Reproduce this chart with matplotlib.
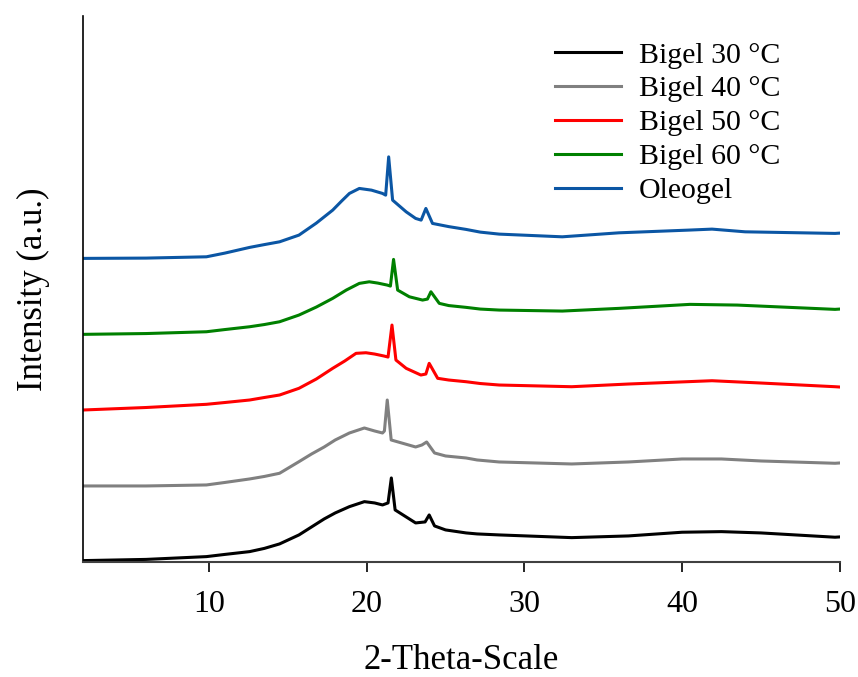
import numpy as np
import matplotlib
matplotlib.use("Agg")
import matplotlib.pyplot as plt

plt.rcParams['font.family'] = ['Liberation Serif', 'DejaVu Serif']

# 2-theta positions and intensities (a.u., stacked)
x_b30 = [2, 6, 9.83, 11, 12.57, 13.5, 14.47, 15.7, 16.5, 17.3, 18.0, 18.9, 19.85, 20.5, 21.0, 21.35, 21.56, 21.8,
         23.1, 23.7, 23.96, 24.3, 25, 26.3, 27, 28.4, 33.0, 36.6, 40.0, 42.5, 45.0, 49.7, 50]
y_b30 = [1.3, 2.5, 5.3, 7.5, 10.3, 13.5, 18, 27, 35, 43, 49, 55.3, 60.3, 59, 57, 59, 84, 52,
         39, 40, 47, 36, 32, 29, 28, 27, 24.3, 26, 29.7, 30.3, 29, 24.7, 25]

x_b40 = [2, 6, 9.83, 11, 12.57, 13.5, 14.47, 15.7, 16.5, 17.3, 18.0, 18.9, 19.85, 20.5, 21.0, 21.12, 21.3, 21.55,
         23.1, 23.5, 23.8, 24.3, 25, 26.3, 27, 28.4, 33.0, 36.6, 40.0, 42.5, 45.0, 49.7, 50]
y_b40 = [76, 76, 77, 79.5, 83, 85.5, 88.7, 100.3, 108, 115, 122, 129, 134, 131, 129, 131, 162, 122,
         115, 117, 120, 109, 106, 104, 102, 100, 98, 100, 103, 103, 101, 98.7, 99]

x_b50 = [2, 6, 9.83, 11, 12.57, 13.5, 14.47, 15.7, 16.8, 17.84, 18.6, 19.32, 19.95, 20.5, 21.1, 21.35, 21.6, 21.85,
         22.5, 23.43, 23.75, 23.96, 24.5, 25.2, 26.3, 27.2, 28.4, 33.0, 36.6, 41.9, 45.0, 49.7, 50]
y_b50 = [152, 154.5, 157.7, 159.5, 162, 164.5, 167, 173.7, 183, 193.7, 201, 208.7, 209.3, 208, 206, 205, 237, 202,
         193.7, 187, 188, 198.7, 183.7, 182, 180.3, 178.5, 177, 175.3, 178, 181.3, 179, 175.3, 175]

x_b60 = [2, 6, 9.83, 11, 12.57, 13.5, 14.47, 15.7, 16.8, 17.84, 18.7, 19.53, 20.16, 20.7, 21.3, 21.5, 21.7, 21.96,
         22.7, 23.54, 23.85, 24.07, 24.6, 25.2, 26.3, 27.2, 28.4, 32.4, 36.0, 40.5, 43.5, 49.7, 50]
y_b60 = [227.7, 228.5, 230.3, 232.5, 235.3, 237.5, 240.3, 247, 255, 263.7, 272, 278.7, 280.3, 279, 277, 276, 302.7, 272,
         265.3, 262, 263, 270.3, 258.7, 256.5, 254.7, 253, 252, 251, 253.7, 257.7, 257, 252.7, 253]

x_oleo = [2, 6, 9.83, 11, 12.57, 13.5, 14.47, 15.7, 16.8, 17.84, 18.4, 18.9, 19.53, 20.3, 21.0, 21.2, 21.39, 21.64,
          22.5, 23.1, 23.45, 23.75, 24.17, 25.2, 26.3, 27.2, 28.4, 32.4, 36.0, 40.4, 41.9, 44.0, 49.7, 50]
y_oleo = [303.7, 304, 305.3, 309, 314.7, 317.5, 320.3, 327, 339, 352, 361, 368.7, 373.7, 372, 368.7, 367, 405.3, 362,
          350.3, 343.7, 342, 353.7, 338.7, 335.5, 332.7, 330, 328, 325.3, 329.3, 332, 333, 330.3, 328.7, 329]

labels = ['Bigel 30 °C', 'Bigel 40 °C', 'Bigel 50 °C', 'Bigel 60 °C', 'Oleogel']
colors = ['black', '#808080', '#FF0000', '#008000', '#0B56A4']

fig = plt.figure(figsize=(8.58, 6.77), dpi=100)
ax = fig.add_axes([0.0967, 0.170, 0.882, 0.806])

series = [(x_b30, y_b30), (x_b40, y_b40), (x_b50, y_b50), (x_b60, y_b60), (x_oleo, y_oleo)]
for (xs, ys), lab, c in zip(series, labels, colors):
    ax.plot(xs, ys, color=c, lw=2.2, label=lab)

ax.set_xlim(2, 50)
ax.set_ylim(0, 546)
ax.set_xticks([10, 20, 30, 40, 50])
ax.set_yticks([])
ax.spines['top'].set_visible(False)
ax.spines['right'].set_visible(False)
ax.spines['left'].set_linewidth(1.2)
ax.spines['bottom'].set_linewidth(1.5)
ax.spines['bottom'].set_color('#404040')
ax.tick_params(axis='x', direction='out', length=7, width=1.2, pad=13, labelsize=23)

ax.set_xlabel('2-Theta-Scale', fontsize=25, labelpad=18)
ax.set_ylabel('Intensity (a.u.)', fontsize=25, labelpad=24)

ax.legend(loc='upper right', bbox_to_anchor=(0.955, 1.0), frameon=False, fontsize=21.5,
          handlelength=2.2, handletextpad=0.6, labelspacing=0.235, borderaxespad=0.45)

fig.savefig('out.png', dpi=100)
